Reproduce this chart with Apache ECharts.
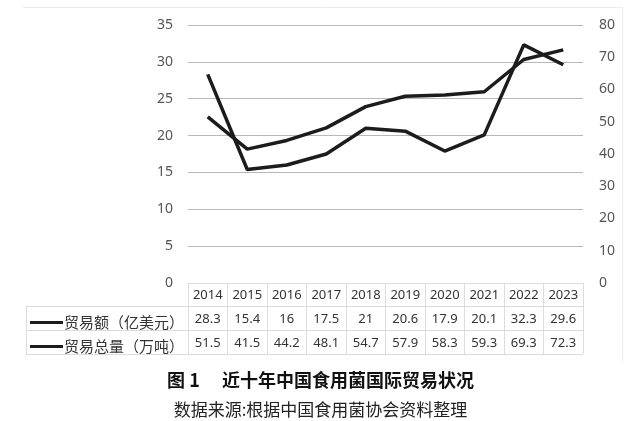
<!DOCTYPE html>
<html>
<head>
<meta charset="utf-8">
<title>近十年中国食用菌国际贸易状况</title>
<script src="https://cdn.jsdelivr.net/npm/echarts@6/dist/echarts.min.js"></script>
<style>
  html, body { margin: 0; padding: 0; background: #fff; }
  #main { width: 641px; height: 421px; }
</style>
</head>
<body>
<div id="main"></div>
<script>
// 年份
var years = ['2014', '2015', '2016', '2017', '2018', '2019', '2020', '2021', '2022', '2023'];
// 贸易额（亿美元）
var amount = [28.3, 15.4, 16, 17.5, 21, 20.6, 17.9, 20.1, 32.3, 29.6];
// 贸易总量（万吨）
var volume = [51.5, 41.5, 44.2, 48.1, 54.7, 57.9, 58.3, 59.3, 69.3, 72.3];

var lineColor = '#1c1c1c';
var borderColor = '#dcdcdc';
var frameColor = '#ececec';
var font = '"Noto Sans", "Noto Sans CJK SC", sans-serif';

function hline(x1, x2, y, c) {
  return { type: 'line', shape: { x1: x1, y1: y, x2: x2, y2: y }, style: { stroke: c || borderColor, lineWidth: 1 }, silent: true };
}
function vline(x, y1, y2, c) {
  return { type: 'line', shape: { x1: x, y1: y1, x2: x, y2: y2 }, style: { stroke: c || borderColor, lineWidth: 1 }, silent: true };
}

var chart = echarts.init(document.getElementById('main'));
var option = {
  backgroundColor: '#fff',
  animation: false,
  title: [{
    text: '图 1\u3000 近十年中国食用菌国际贸易状况',
    left: 'center',
    top: 366,
    textStyle: { fontFamily: '"Noto Sans CJK SC", sans-serif', fontSize: 18, fontWeight: 'bold', color: '#111' }
  }, {
    text: '数据来源:根据中国食用菌协会资料整理',
    left: 'center',
    top: 396,
    textStyle: { fontFamily: '"Noto Sans CJK SC", sans-serif', fontSize: 17, fontWeight: 'normal', color: '#222' }
  }],
  legend: {
    orient: 'vertical',
    left: 25,
    top: 310,
    itemWidth: 33,
    itemHeight: 3,
    itemGap: 9,
    icon: 'rect',
    textStyle: { fontFamily: '"Noto Sans CJK SC", sans-serif', fontSize: 15, color: '#333', padding: [0, 0, 0, -4] },
    data: ['贸易额（亿美元）', '贸易总量（万吨）']
  },
  grid: { left: 188, right: 58, top: 25, bottom: 138 },
  xAxis: {
    type: 'category',
    data: years,
    boundaryGap: true,
    axisLine: { show: true, lineStyle: { color: borderColor } },
    axisTick: { show: true, length: 71, lineStyle: { color: borderColor } },
    axisLabel: {
      margin: 0,
      interval: 0,
      lineHeight: 24,
      fontFamily: font,
      fontSize: 13,
      color: '#333',
      formatter: function (v, i) {
        return v + '\n' + amount[i] + '\n' + volume[i];
      }
    },
    splitLine: { show: false }
  },
  yAxis: [{
    type: 'value',
    min: 0,
    max: 35,
    interval: 5,
    axisLine: { show: false },
    axisTick: { show: false },
    axisLabel: { margin: 15, fontFamily: font, fontSize: 14, color: '#555' },
    splitLine: { lineStyle: { color: '#b8b8b8', width: 1 } }
  }, {
    type: 'value',
    min: 0,
    max: 80,
    interval: 10,
    axisLine: { show: false },
    axisTick: { show: false },
    axisLabel: { margin: 16, fontFamily: font, fontSize: 14, color: '#555' },
    splitLine: { show: false }
  }],
  series: [{
    name: '贸易额（亿美元）',
    type: 'line',
    yAxisIndex: 0,
    data: amount,
    symbol: 'none',
    itemStyle: { color: lineColor },
    lineStyle: { color: lineColor, width: 3.5 }
  }, {
    name: '贸易总量（万吨）',
    type: 'line',
    yAxisIndex: 1,
    data: volume,
    symbol: 'none',
    itemStyle: { color: lineColor },
    lineStyle: { color: lineColor, width: 3.5 }
  }],
  graphic: [
    // 外框
    hline(23, 622, 7.5, frameColor),
    vline(622.5, 7, 362, frameColor),
    // 数据表格
    hline(26, 583, 306.5),
    hline(26, 583, 330.5),
    hline(26, 583, 354.5),
    vline(26.5, 306, 354)
  ]
};
chart.setOption(option);
</script>
</body>
</html>
